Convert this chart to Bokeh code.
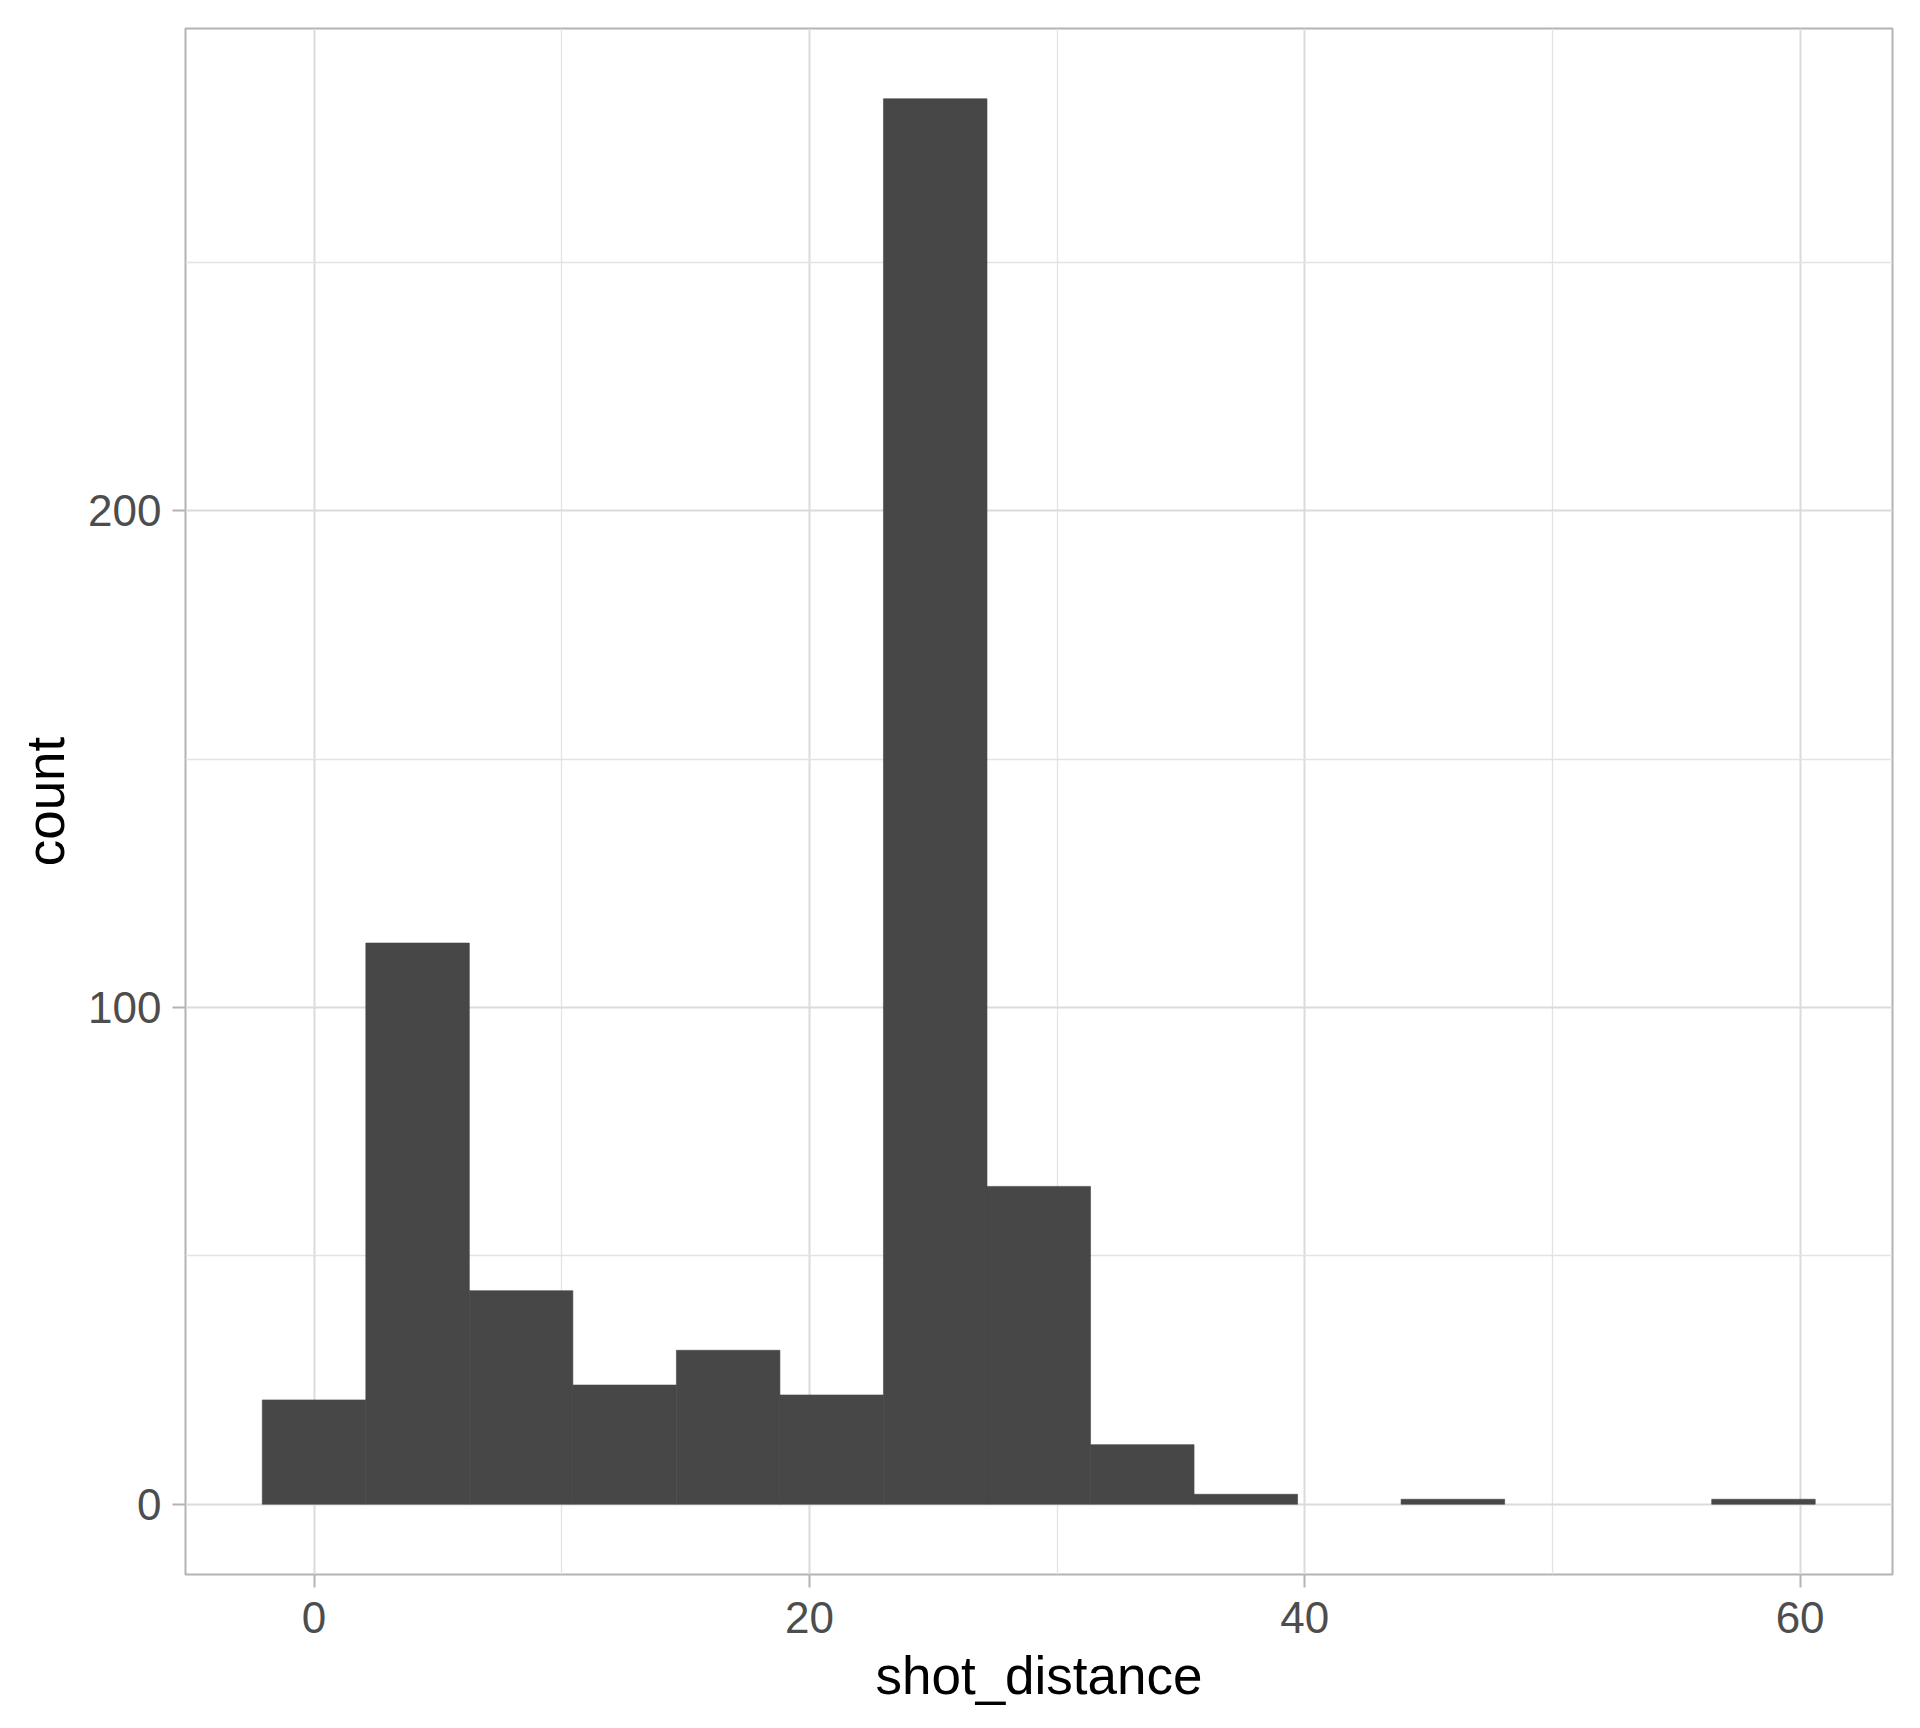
from bokeh.plotting import figure
from bokeh.models import Range1d, FixedTicker, ColumnDataSource
from bokeh.embed import file_html
from bokeh.resources import INLINE

# Data (15 bins of width ~4.18, first centred at 0)
bin_width = 4.18
bin_centers = [0.0, 4.18, 8.36, 12.54, 16.72, 20.9, 25.08, 29.26, 33.44, 37.62,
               41.8, 45.98, 50.16, 54.34, 58.52]
counts = [21, 113, 43, 24, 31, 22, 283, 64, 12, 2, 0, 1, 0, 0, 1]

x_ticks = [0, 20, 40, 60]
x_minor = [10, 30, 50]
y_ticks = [0, 100, 200]
y_minor = [50, 150, 250]
x_label = "shot_distance"
y_label = "count"

FONT = "Liberation Sans"
BAR = "#474747"

# outline only on non-empty bins (hides anti-aliasing seams between adjacent bars)
edge_alpha = [1.0 if c > 0 else 0.0 for c in counts]
src = ColumnDataSource(dict(x=bin_centers, top=counts, la=edge_alpha))

p = figure(width=1904, height=1712, output_backend="svg", toolbar_location=None,
           x_range=Range1d(-5.19, 63.73), y_range=Range1d(-14.15, 297.15),
           min_border_left=185, min_border_right=12, min_border_top=28,
           min_border_bottom=138)

p.vbar(x="x", top="top", bottom=0, width=bin_width, source=src,
       fill_color=BAR, line_color=BAR, line_width=0.6, line_alpha="la")

p.background_fill_color = "white"
p.border_fill_color = "white"
p.outline_line_color = "#B3B3B3"
p.outline_line_width = 2

p.xaxis.ticker = FixedTicker(ticks=x_ticks, minor_ticks=x_minor)
p.yaxis.ticker = FixedTicker(ticks=y_ticks, minor_ticks=y_minor)

for g in (p.xgrid, p.ygrid):
    g.grid_line_color = "#DBDBDB"
    g.grid_line_width = 2
    g.minor_grid_line_color = "#E3E3E3"
    g.minor_grid_line_width = 1.3

for ax in (p.xaxis, p.yaxis):
    ax.axis_line_color = None
    ax.major_tick_line_color = "#B3B3B3"
    ax.major_tick_line_width = 2
    ax.major_tick_out = 13
    ax.major_tick_in = 0
    ax.minor_tick_out = 0
    ax.minor_tick_in = 0
    ax.major_label_text_font = FONT
    ax.major_label_text_font_size = "44px"
    ax.major_label_text_color = "#4D4D4D"
    ax.axis_label_text_font = FONT
    ax.axis_label_text_font_size = "53px"
    ax.axis_label_text_color = "black"
    ax.axis_label_text_font_style = "normal"

p.xaxis.axis_label = x_label
p.yaxis.axis_label = y_label
p.xaxis.major_label_standoff = 14
p.yaxis.major_label_standoff = 11
p.xaxis.axis_label_standoff = 10
p.yaxis.axis_label_standoff = 10

open("out.html", "w").write(file_html(p, INLINE))
